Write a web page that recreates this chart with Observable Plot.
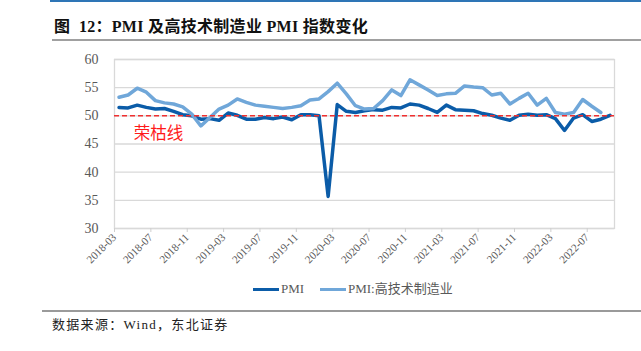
<!DOCTYPE html>
<html>
<head>
<meta charset="utf-8">
<script src="https://cdn.jsdelivr.net/npm/d3@7"></script>
<script src="https://cdn.jsdelivr.net/npm/@observablehq/plot@0.6"></script>
<style>
  html, body { margin: 0; padding: 0; background: #fff; }
  #page { position: relative; width: 641px; height: 351px; overflow: hidden; background: #fff; }
  .abs { position: absolute; white-space: nowrap; }
  #topbar { left: 50px; top: 0; width: 591px; height: 2px; background: #2e75b6; }
  #title { left: 54px; top: 16px; font-family: "Liberation Serif", "Noto Sans CJK SC", serif; font-weight: bold; font-size: 16px; line-height: 22px; color: #111; letter-spacing: 0.3px; }
  #titleline { left: 52px; top: 39px; width: 589px; height: 2px; background: #a0a0a0; }
  #chart { left: 0; top: 45px; }
  #legend { left: 0; top: 280px; width: 641px; height: 18px; }
  .lg { position: absolute; top: 0; height: 18px; line-height: 18px; font-family: "Liberation Serif", "Noto Sans CJK SC", serif; font-size: 13px; color: #595959; }
  .sw { position: absolute; top: 8px; width: 26px; height: 3px; }
  #bottomline { left: 42px; top: 310px; width: 599px; height: 2px; background: #9a9a9a; }
  #source { left: 52px; top: 316px; font-family: "Liberation Serif", "Noto Sans CJK SC", serif; font-size: 13px; line-height: 18px; color: #222; letter-spacing: 1.3px; }
</style>
</head>
<body>
<div id="page">
  <div id="topbar" class="abs"></div>
  <div id="title" class="abs">图&nbsp;&nbsp;12：PMI 及高技术制造业 PMI 指数变化</div>
  <div id="titleline" class="abs"></div>
  <div id="chart" class="abs"></div>
  <div id="legend" class="abs"></div>
  <div id="bottomline" class="abs"></div>
  <div id="source" class="abs">数据来源：Wind，东北证券</div>
</div>
<script>
const months = [
  "2018-03","2018-04","2018-05","2018-06","2018-07","2018-08","2018-09","2018-10","2018-11","2018-12",
  "2019-01","2019-02","2019-03","2019-04","2019-05","2019-06","2019-07","2019-08","2019-09","2019-10","2019-11","2019-12",
  "2020-01","2020-02","2020-03","2020-04","2020-05","2020-06","2020-07","2020-08","2020-09","2020-10","2020-11","2020-12",
  "2021-01","2021-02","2021-03","2021-04","2021-05","2021-06","2021-07","2021-08","2021-09","2021-10","2021-11","2021-12",
  "2022-01","2022-02","2022-03","2022-04","2022-05","2022-06","2022-07","2022-08","2022-09"
];
const pmi = [
  51.5,51.4,51.9,51.5,51.2,51.3,50.8,50.2,50.0,49.4,
  49.5,49.2,50.5,50.1,49.4,49.4,49.7,49.5,49.8,49.3,50.2,50.2,
  50.0,35.7,52.0,50.8,50.6,50.9,51.1,51.0,51.5,51.4,52.1,51.9,
  51.3,50.6,51.9,51.1,51.0,50.9,50.4,50.1,49.6,49.2,50.1,50.3,
  50.1,50.2,49.5,47.4,49.6,50.2,49.0,49.4,50.1
];
const highTech = [
  53.3,53.7,54.9,54.2,52.7,52.3,52.1,51.6,50.3,48.2,
  49.7,51.2,51.9,53.0,52.4,51.9,51.7,51.5,51.3,51.5,51.8,52.8,
  53.0,54.3,55.8,53.9,51.8,51.2,51.3,52.7,54.6,53.6,56.4,55.5,
  54.6,53.6,53.9,54.0,55.3,55.1,55.0,53.7,54.0,52.1,53.1,54.0,
  51.9,53.1,50.6,50.3,50.6,52.9,51.7,50.6,null
];
const seriesNames = ["PMI", "PMI:高技术制造业"];
const seriesColors = ["#0b5ca8", "#70a7d9"];
const yTicks = [30, 35, 40, 45, 50, 55, 60];
const xTickMonths = ["2018-03","2018-07","2018-11","2019-03","2019-07","2019-11","2020-03","2020-07","2020-11","2021-03","2021-07","2021-11","2022-03","2022-07"];
const threshold = 50;
const thresholdLabel = [{label: "荣枯线", month: "2018-07", value: 46.8}];

const idx = m => months.indexOf(m);
const rows = months.map((m, i) => ({i, m, pmi: pmi[i], ht: highTech[i]}));

const chart = Plot.plot({
  width: 641,
  height: 230,
  marginLeft: 114,
  marginRight: 27,
  marginTop: 14,
  marginBottom: 47,
  x: {type: "linear", domain: [0, months.length], axis: null},
  y: {domain: [30, 60], axis: null},
  style: {fontFamily: "'Liberation Serif', 'Times New Roman', serif", background: "white"},
  marks: [
    Plot.gridY(yTicks, {stroke: "#d9d9d9", strokeOpacity: 1, strokeWidth: 1.3}),
    Plot.frame({stroke: "#d9d9d9", strokeWidth: 1.3}),
    Plot.axisY({ticks: yTicks, tickSize: 0, tickPadding: 16, fontSize: 14, fill: "#595959"}),
    Plot.axisX({
      ticks: xTickMonths.map(idx),
      tickSize: 4,
      tickPadding: 3,
      stroke: "#cfcfcf",
      tickFormat: i => months[i],
      tickRotate: -45,
      fontSize: 11,
      fill: "#595959"
    }),
    Plot.line(rows, {x: d => d.i + 0.5, y: "pmi", stroke: seriesColors[0], strokeWidth: 3.5}),
    Plot.line(rows.filter(d => d.ht != null), {x: d => d.i + 0.5, y: "ht", stroke: seriesColors[1], strokeWidth: 3.5}),
    Plot.ruleY([threshold], {stroke: "#f03030", strokeDasharray: "5,3", strokeWidth: 1.5}),
    Plot.text(thresholdLabel, {
      x: d => idx(d.month) + 0.5, y: "value", text: "label", dx: 3,
      fill: "#ff1a1a", fontSize: 16.5, fontFamily: "'Noto Sans CJK SC', sans-serif"
    })
  ]
});
document.getElementById("chart").appendChild(chart);

// legend
const legend = document.getElementById("legend");
const legendX = [253, 320];
seriesNames.forEach((name, k) => {
  const sw = document.createElement("div");
  sw.className = "sw";
  sw.style.left = legendX[k] + "px";
  sw.style.background = seriesColors[k];
  legend.appendChild(sw);
  const t = document.createElement("div");
  t.className = "lg";
  t.style.left = (legendX[k] + 28) + "px";
  t.textContent = name;
  legend.appendChild(t);
});
</script>
</body>
</html>
